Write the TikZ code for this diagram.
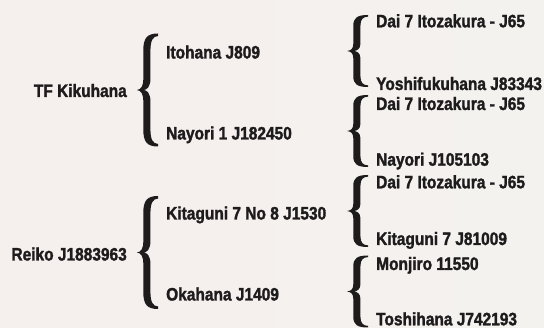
\documentclass[tikz,border=0pt]{standalone}
\usepackage{fontspec}
\newfontfamily\lblfont{Liberation Sans Bold}[FakeStretch=0.86,FakeBold=1.6]
\definecolor{ink}{RGB}{30,27,28}
\definecolor{bgL}{RGB}{245,239,237}
\definecolor{bgR}{RGB}{244,242,239}
\tikzset{
  lbl/.style={font=\lblfont\fontsize{18}{20}\selectfont, text=ink, inner sep=0pt},
  lbrace/.pic={
    \fill[ink] (1,1)
      .. controls (0.48,1) and (0.3,0.92) .. (0.3,0.7)
      -- (0.3,0.2)
      .. controls (0.3,0.07) and (0.2,0.01) .. (0,0)
      .. controls (0.2,-0.01) and (0.3,-0.07) .. (0.3,-0.2)
      -- (0.3,-0.7)
      .. controls (0.3,-0.92) and (0.48,-1) .. (1,-1)
      -- (1,-0.955)
      .. controls (0.76,-0.95) and (0.64,-0.88) .. (0.64,-0.7)
      -- (0.64,-0.2)
      .. controls (0.64,-0.06) and (0.47,0) .. (0.32,0)
      .. controls (0.47,0) and (0.64,0.06) .. (0.64,0.2)
      -- (0.64,0.7)
      .. controls (0.64,0.88) and (0.76,0.95) .. (1,0.955)
      -- cycle;
  }
}
\begin{document}
\begin{tikzpicture}[x=1pt,y=-1pt]
\shade[left color=bgL,right color=bgR] (0,0) rectangle (544,328);
\useasboundingbox (0,0) rectangle (544,328);
% generation 1
\node[lbl, anchor=base east] (g1a) at (127,97) {TF Kikuhana};
\node[lbl, anchor=base east] (g1b) at (127,260.5) {Reiko J1883963};
% braces gen 1
\pic[xscale=21,yscale=56.5] (b1a) at (137,90) {lbrace};
\pic[xscale=21,yscale=56.5] (b1b) at (137,252.5) {lbrace};
% generation 2
\node[lbl, anchor=base west] (g2a) at (166,58.5) {Itohana J809};
\node[lbl, anchor=base west] (g2b) at (166,139.5) {Nayori 1 J182450};
\node[lbl, anchor=base west] (g2c) at (166,219.5) {Kitaguni 7 No 8 J1530};
\node[lbl, anchor=base west] (g2d) at (166,300.5) {Okahana J1409};
% braces gen 2
\pic[xscale=21,yscale=36] (b2a) at (347,51) {lbrace};
\pic[xscale=21,yscale=36] (b2b) at (347,131) {lbrace};
\pic[xscale=21,yscale=36] (b2c) at (347,211) {lbrace};
\pic[xscale=21,yscale=36] (b2d) at (347,291.5) {lbrace};
% generation 3
\node[lbl, anchor=base west] (g3a) at (376,27.3) {Dai 7 Itozakura - J65};
\node[lbl, anchor=base west] (g3b) at (376,90) {Yoshifukuhana J83343};
\node[lbl, anchor=base west] (g3c) at (376,110) {Dai 7 Itozakura - J65};
\node[lbl, anchor=base west] (g3d) at (376,165.7) {Nayori J105103};
\node[lbl, anchor=base west] (g3e) at (376,188.3) {Dai 7 Itozakura - J65};
\node[lbl, anchor=base west] (g3f) at (376,245) {Kitaguni 7 J81009};
\node[lbl, anchor=base west] (g3g) at (376,270) {Monjiro 11550};
\node[lbl, anchor=base west] (g3h) at (376,325.3) {Toshihana J742193};
\end{tikzpicture}
\end{document}
